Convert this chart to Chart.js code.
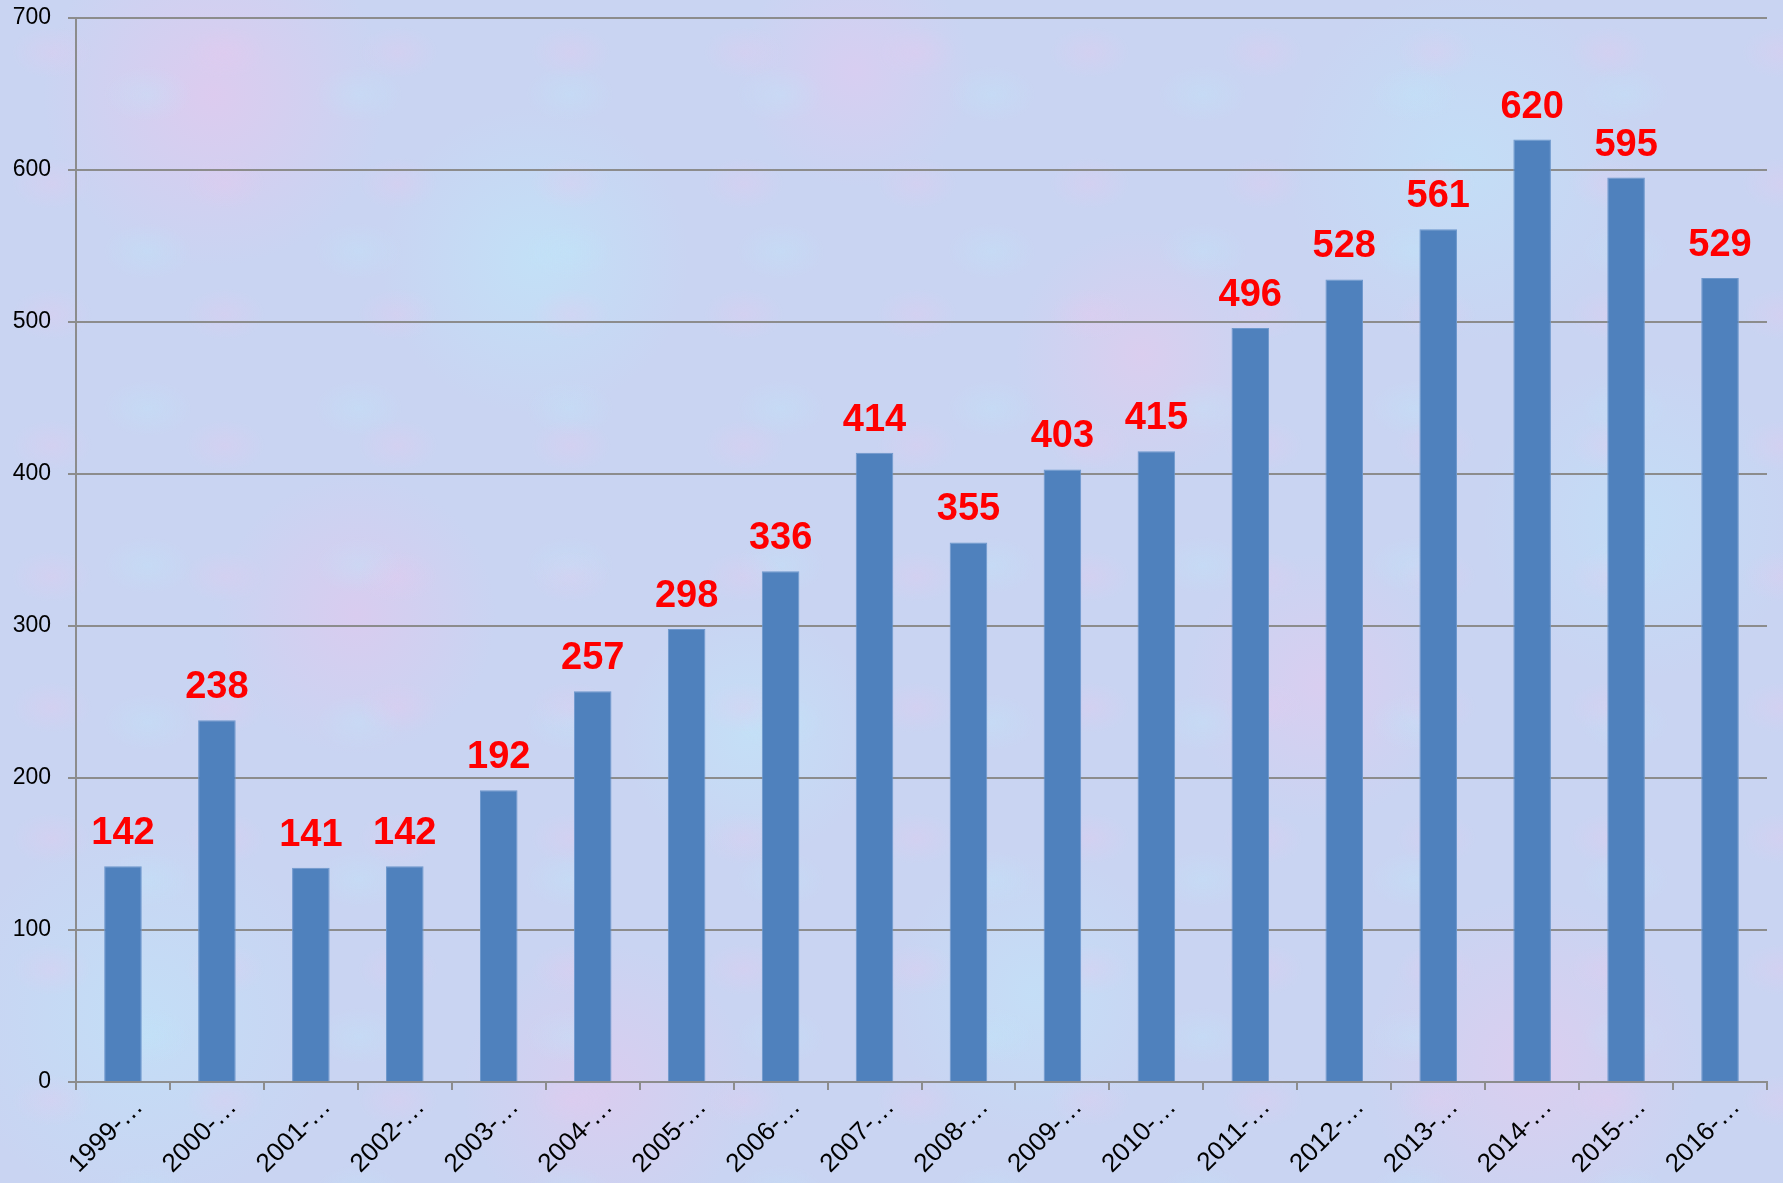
<!DOCTYPE html>
<html>
<head>
<meta charset="utf-8">
<script src="https://cdn.jsdelivr.net/npm/chart.js@4"></script>
<style>
html,body{margin:0;padding:0;width:1783px;height:1183px;overflow:hidden;}
body{
  background-color:#c9d4f2;
  background-image:
    radial-gradient(ellipse at 30% 40%, rgba(235,200,238,0.28) 0, rgba(235,200,238,0) 40px),
    radial-gradient(ellipse at 70% 60%, rgba(190,232,250,0.30) 0, rgba(190,232,250,0) 44px),
    radial-gradient(circle at 12% 8%, rgba(236,196,236,0.55) 0, rgba(236,196,236,0) 9%),
    radial-gradient(circle at 30% 22%, rgba(190,232,250,0.6) 0, rgba(190,232,250,0) 10%),
    radial-gradient(circle at 48% 6%, rgba(230,200,240,0.5) 0, rgba(230,200,240,0) 8%),
    radial-gradient(circle at 64% 30%, rgba(235,200,235,0.5) 0, rgba(235,200,235,0) 9%),
    radial-gradient(circle at 82% 14%, rgba(190,230,250,0.55) 0, rgba(190,230,250,0) 10%),
    radial-gradient(circle at 20% 52%, rgba(232,196,236,0.5) 0, rgba(232,196,236,0) 9%),
    radial-gradient(circle at 42% 62%, rgba(192,232,250,0.55) 0, rgba(192,232,250,0) 10%),
    radial-gradient(circle at 74% 58%, rgba(232,200,238,0.5) 0, rgba(232,200,238,0) 9%),
    radial-gradient(circle at 92% 44%, rgba(190,228,250,0.55) 0, rgba(190,228,250,0) 9%),
    radial-gradient(circle at 8% 86%, rgba(190,230,250,0.55) 0, rgba(190,230,250,0) 10%),
    radial-gradient(circle at 34% 92%, rgba(232,198,236,0.5) 0, rgba(232,198,236,0) 9%),
    radial-gradient(circle at 58% 84%, rgba(192,230,250,0.55) 0, rgba(192,230,250,0) 10%),
    radial-gradient(circle at 86% 90%, rgba(236,200,236,0.5) 0, rgba(236,200,236,0) 9%);
  background-size: 173px 131px, 211px 157px, 100% 100%, 100% 100%, 100% 100%, 100% 100%, 100% 100%, 100% 100%, 100% 100%, 100% 100%, 100% 100%, 100% 100%, 100% 100%, 100% 100%, 100% 100%;
}
#wrap{position:absolute;left:0;top:0;width:1783px;height:1183px;}
</style>
</head>
<body>
<div id="wrap"><canvas id="c" width="1783" height="1183"></canvas></div>
<script>
const categories = ["1999-…","2000-…","2001-…","2002-…","2003-…","2004-…","2005-…","2006-…","2007-…","2008-…","2009-…","2010-…","2011-…","2012-…","2013-…","2014-…","2015-…","2016-…"];
const values = [142,238,141,142,192,257,298,336,414,355,403,415,496,528,561,620,595,529];
const yTicks = [0,100,200,300,400,500,600,700];

const valueLabels = {
  id: 'valueLabels',
  afterDatasetsDraw(chart) {
    const ctx = chart.ctx;
    const meta = chart.getDatasetMeta(0);
    ctx.save();
    ctx.fillStyle = '#ff0000';
    ctx.font = 'bold 38px "Liberation Sans", Arial, sans-serif';
    ctx.textAlign = 'center';
    ctx.textBaseline = 'alphabetic';
    meta.data.forEach((bar, i) => {
      ctx.fillText(String(values[i]), bar.x, bar.y - 22);
    });
    ctx.restore();
  }
};

new Chart(document.getElementById('c'), {
  type: 'bar',
  data: {
    labels: categories,
    datasets: [{
      data: values,
      backgroundColor: '#4f81bd',
      borderColor: '#6d97cc',
      borderWidth: 1,
      categoryPercentage: 1.0,
      barPercentage: 0.4
    }]
  },
  options: {
    responsive: false,
    animation: false,
    devicePixelRatio: 1,
    layout: { padding: { top: 18, right: 16, left: 0, bottom: 0 } },
    plugins: { legend: { display: false }, tooltip: { enabled: false } },
    scales: {
      x: {
        grid: { drawOnChartArea: false, drawTicks: true, tickLength: 8, color: '#8c8c8c', lineWidth: 2, offset: true },
        border: { display: true, color: '#8c8c8c', width: 2 },
        ticks: {
          color: '#000000',
          font: { family: '"Liberation Sans", Arial, sans-serif', size: 26 },
          minRotation: 45, maxRotation: 45, padding: 2, autoSkip: false, labelOffset: 16
        },
        afterFit(scale) { scale.height = 101; scale.paddingLeft = 0; scale.paddingRight = 0; }
      },
      y: {
        min: 0, max: 700,
        afterBuildTicks(scale) { scale.ticks = yTicks.map(v => ({ value: v })); },
        grid: { color: '#8c8c8c', lineWidth: 2, tickLength: 8, drawTicks: true },
        border: { display: true, color: '#8c8c8c', width: 2 },
        ticks: {
          color: '#000000',
          font: { family: '"Liberation Sans", Arial, sans-serif', size: 23 },
          padding: 17
        },
        afterFit(scale) { scale.width = 76; scale.paddingTop = 0; scale.paddingBottom = 0; }
      }
    }
  },
  plugins: [valueLabels]
});
</script>
</body>
</html>
